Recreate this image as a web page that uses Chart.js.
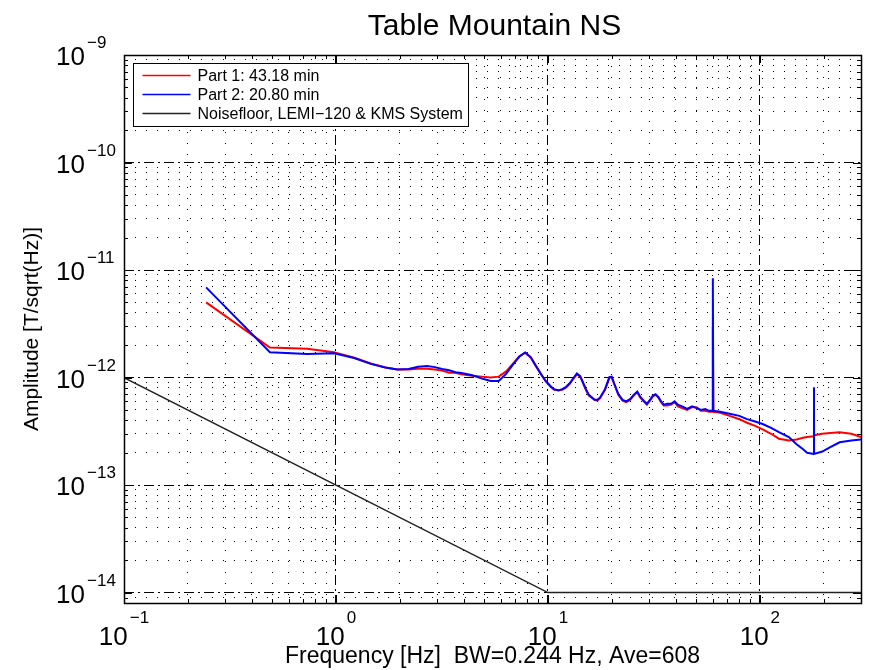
<!DOCTYPE html>
<html>
<head>
<meta charset="utf-8">
<script src="https://cdn.jsdelivr.net/npm/chart.js@4.4.1/dist/chart.umd.min.js"></script>
<style>
  html, body { margin: 0; padding: 0; background: #fff; }
</style>
</head>
<body>
<canvas id="chart" width="870" height="670"></canvas>
<script>
const FONT = "'Liberation Sans', Arial, Helvetica, sans-serif";

// amplitudes are in units of 1e-12 T/sqrt(Hz)
const UNIT = 1e-12;

const freqHz = [
  0.244, 0.488, 0.732, 0.977, 1.22, 1.46, 1.71, 1.95, 2.2, 2.44,
  2.69, 2.93, 3.17, 3.42, 3.66, 3.91, 4.4, 4.88, 5.37, 5.86,
  6.35, 6.84, 7.32, 7.81, 8.3, 8.79, 9.28, 9.77, 10.3, 10.7,
  11.2, 11.7, 12.2, 12.7, 13.2, 13.7, 14.2, 14.6, 15.1, 15.6,
  16.6, 17.1, 17.6, 18.6, 19.5, 20.0, 20.5, 21.5, 22.5, 23.4,
  24.4, 25.4, 26.4, 27.3, 28.3, 29.3, 30.3, 31.3, 32.2, 33.2,
  34.2, 35.2, 36.6, 38.1, 39.6, 41.0, 43.0, 45.4, 47.9, 50.3,
  52.7, 55.2, 57.6, 59.6, 60.0, 60.3, 65, 72, 80, 87,
  95, 103, 113, 123, 137, 149, 160, 167, 179.8, 180.0,
  180.2, 197, 215, 238, 270, 300
];

// Part 1: 43.18 min (red)
const partOneAmp = [
  5.0, 1.9, 1.85, 1.72, 1.53, 1.35, 1.24, 1.19, 1.19, 1.21,
  1.21, 1.19, 1.16, 1.11, 1.11, 1.07, 1.04, 1.02, 1.0, 1.02,
  1.14, 1.35, 1.57, 1.7, 1.53, 1.27, 1.07, 0.92, 0.82, 0.77,
  0.76, 0.77, 0.81, 0.88, 0.98, 1.07, 1.02, 0.9, 0.77, 0.68,
  0.62, 0.61, 0.64, 0.77, 1.0, 1.0, 0.88, 0.69, 0.61, 0.59,
  0.62, 0.68, 0.73, 0.65, 0.6, 0.56, 0.61, 0.67, 0.69, 0.65,
  0.59, 0.55, 0.55, 0.56, 0.59, 0.54, 0.52, 0.5, 0.53, 0.53,
  0.49, 0.49, 0.48, 0.48, 3.0, 0.48, 0.47, 0.44, 0.41, 0.38,
  0.355, 0.33, 0.30, 0.27, 0.26, 0.265, 0.275, 0.28, 0.285, 0.81,
  0.29, 0.30, 0.305, 0.31, 0.30, 0.28
];

// Part 2: 20.80 min (blue)
const partTwoAmp = [
  6.9, 1.72, 1.66, 1.68, 1.52, 1.34, 1.24, 1.19, 1.2, 1.26,
  1.28, 1.25, 1.2, 1.17, 1.12, 1.1, 1.05, 0.98, 0.93, 0.93,
  1.08, 1.32, 1.56, 1.71, 1.55, 1.28, 1.08, 0.93, 0.83, 0.78,
  0.76, 0.78, 0.82, 0.89, 0.99, 1.09, 1.03, 0.91, 0.78, 0.69,
  0.62, 0.62, 0.65, 0.78, 1.01, 1.02, 0.89, 0.7, 0.62, 0.6,
  0.63, 0.69, 0.74, 0.66, 0.61, 0.57, 0.62, 0.68, 0.7, 0.66,
  0.6, 0.56, 0.57, 0.57, 0.6, 0.56, 0.54, 0.51, 0.54, 0.52,
  0.5, 0.51, 0.49, 0.49, 8.4, 0.49, 0.48, 0.46, 0.44, 0.41,
  0.39, 0.37, 0.34, 0.31, 0.28, 0.24, 0.215, 0.2, 0.195, 0.81,
  0.195, 0.205, 0.225, 0.25, 0.26, 0.265
];

// Noisefloor, LEMI-120 & KMS System
const noiseFreq = [0.1, 10, 300];
const noiseAmp = [1, 0.01, 0.01];

const xDecades = [-1, 0, 1, 2];
const yDecades = [-14, -13, -12, -11, -10, -9];

const seriesLabels = ['Part 1: 43.18 min', 'Part 2: 20.80 min', 'Noisefloor, LEMI\u2212120 & KMS System'];

const X_MIN = 0.1, X_MAX = 300;
const Y_MIN = 8e-15, Y_MAX = 1e-9;

function toPoints(fs, amps) {
  return fs.map((f, i) => ({ x: f, y: amps[i] * UNIT }));
}

// 1..9 per decade, decades flagged as major
function logTicks(min, max) {
  const ticks = [];
  for (let e = Math.floor(Math.log10(min)); e <= Math.ceil(Math.log10(max)); e++) {
    for (let m = 1; m <= 9; m++) {
      const v = m * Math.pow(10, e);
      if (v >= min * 0.9999 && v <= max * 1.0001) ticks.push({ value: v, major: m === 1 });
    }
  }
  return ticks;
}

function expText(e) {
  return e < 0 ? '\u2212' + Math.abs(e) : String(e);
}

const gridDash = ctx => ctx.tick ? (ctx.tick.major ? [10, 4, 2, 4] : [1, 10]) : [];

// frame, inner tick marks, decade labels, title and legend
const decorations = {
  id: 'decorations',
  afterDatasetsDraw(chart) {
    const { ctx, chartArea: a, scales } = chart;
    ctx.save();
    ctx.strokeStyle = '#000';
    ctx.lineWidth = 1;
    ctx.beginPath();
    scales.x.ticks.forEach(t => {
      const px = Math.round(scales.x.getPixelForValue(t.value)) + 0.5;
      const len = t.major ? 8 : 4;
      ctx.moveTo(px, a.bottom); ctx.lineTo(px, a.bottom - len);
      ctx.moveTo(px, a.top); ctx.lineTo(px, a.top + len);
    });
    scales.y.ticks.forEach(t => {
      const py = Math.round(scales.y.getPixelForValue(t.value)) + 0.5;
      const len = t.major ? 8 : 4;
      ctx.moveTo(a.left, py); ctx.lineTo(a.left + len, py);
      ctx.moveTo(a.right, py); ctx.lineTo(a.right - len, py);
    });
    ctx.stroke();
    ctx.lineWidth = 1.5;
    ctx.strokeRect(Math.round(a.left) + 0.5, Math.round(a.top) + 0.5,
      Math.round(a.right - a.left), Math.round(a.bottom - a.top));
    ctx.restore();
  },
  afterDraw(chart) {
    const { ctx, chartArea: a, scales } = chart;
    ctx.save();
    ctx.fillStyle = '#000';
    ctx.textBaseline = 'alphabetic';

    // y decade labels
    yDecades.forEach(e => {
      const py = scales.y.getPixelForValue(Math.pow(10, e));
      ctx.font = `26px ${FONT}`;
      ctx.textAlign = 'right';
      ctx.fillText('10', 85, py + 10);
      ctx.font = `17px ${FONT}`;
      ctx.textAlign = 'left';
      ctx.fillText(expText(e), 87, py - 7);
    });

    // x decade labels
    xDecades.forEach(e => {
      const px = scales.x.getPixelForValue(Math.pow(10, e));
      ctx.font = `26px ${FONT}`;
      const w1 = ctx.measureText('10').width;
      ctx.font = `17px ${FONT}`;
      const w2 = ctx.measureText(expText(e)).width;
      const start = px - (w1 + 2 + w2) / 2;
      ctx.textAlign = 'left';
      ctx.font = `26px ${FONT}`;
      ctx.fillText('10', start, 645);
      ctx.font = `17px ${FONT}`;
      ctx.fillText(expText(e), start + w1 + 2, 623);
    });

    // title
    ctx.font = `30px ${FONT}`;
    ctx.textAlign = 'center';
    ctx.fillText('Table Mountain NS', (a.left + a.right) / 2 + 2, 35);

    // legend box
    const sets = chart.data.datasets;
    ctx.font = `16px ${FONT}`;
    const textW = Math.max(...sets.map(d => ctx.measureText(d.label).width));
    const bx = Math.round(a.left) + 9.5, by = Math.round(a.top) + 8.5;
    const bw = Math.round(64 + textW + 6), bh = 63;
    ctx.fillStyle = '#fff';
    ctx.fillRect(bx, by, bw, bh);
    ctx.strokeStyle = '#000';
    ctx.lineWidth = 1;
    ctx.strokeRect(bx, by, bw, bh);
    sets.forEach((d, i) => {
      const ry = by + 12 + i * 19;
      ctx.strokeStyle = d.borderColor;
      ctx.lineWidth = 1.5;
      ctx.beginPath();
      ctx.moveTo(bx + 9, ry);
      ctx.lineTo(bx + 57, ry);
      ctx.stroke();
      ctx.fillStyle = '#000';
      ctx.textAlign = 'left';
      ctx.textBaseline = 'middle';
      ctx.fillText(d.label, bx + 64, ry + 1);
    });
    ctx.restore();
  }
};

new Chart(document.getElementById('chart'), {
  type: 'line',
  data: {
    datasets: [
      {
        label: seriesLabels[0],
        data: toPoints(freqHz, partOneAmp),
        borderColor: '#ff0000',
        borderWidth: 2,
        order: 2
      },
      {
        label: seriesLabels[1],
        data: toPoints(freqHz, partTwoAmp),
        borderColor: '#0000ff',
        borderWidth: 2,
        order: 1
      },
      {
        label: seriesLabels[2],
        data: toPoints(noiseFreq, noiseAmp),
        borderColor: '#222222',
        borderWidth: 1.5,
        order: 3
      }
    ]
  },
  options: {
    responsive: false,
    animation: false,
    devicePixelRatio: 1,
    layout: { padding: { top: 55, right: 9, bottom: 0, left: 0 } },
    elements: {
      point: { radius: 0, hoverRadius: 0 },
      line: { tension: 0, fill: false }
    },
    plugins: {
      legend: { display: false },
      title: { display: false },
      tooltip: { enabled: false }
    },
    scales: {
      x: {
        type: 'logarithmic',
        min: X_MIN,
        max: X_MAX,
        afterBuildTicks: s => { s.ticks = logTicks(X_MIN, X_MAX); },
        afterFit: s => { s.height = 67; },
        ticks: { display: false },
        grid: { color: '#000', lineWidth: 1, drawTicks: false },
        border: { display: false, dash: gridDash },
        title: {
          display: true,
          text: 'Frequency [Hz]  BW=0.244 Hz, Ave=608',
          color: '#000',
          font: { family: FONT, size: 23 },
          padding: { top: 0, bottom: 0 }
        }
      },
      y: {
        type: 'logarithmic',
        min: Y_MIN,
        max: Y_MAX,
        afterBuildTicks: s => { s.ticks = logTicks(Y_MIN, Y_MAX); },
        afterFit: s => { s.width = 124; },
        ticks: { display: false },
        grid: { color: '#000', lineWidth: 1, drawTicks: false },
        border: { display: false, dash: gridDash },
        title: {
          display: true,
          text: 'Amplitude [T/sqrt(Hz)]',
          color: '#000',
          font: { family: FONT, size: 21 },
          padding: { top: 20, bottom: 0 }
        }
      }
    }
  },
  plugins: [decorations]
});
</script>
</body>
</html>
